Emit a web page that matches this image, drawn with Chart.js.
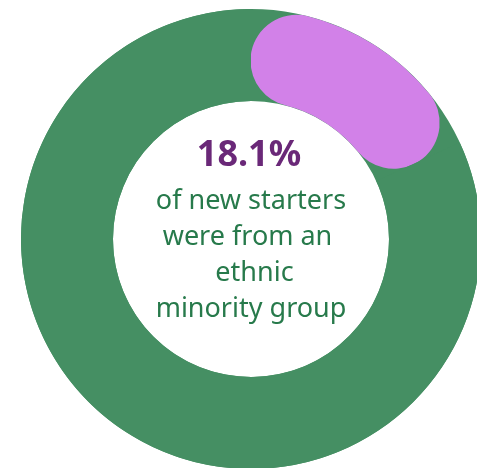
<!DOCTYPE html>
<html>
<head>
<meta charset="utf-8">
<script src="https://cdn.jsdelivr.net/npm/chart.js@4.4.1/dist/chart.umd.min.js"></script>
<style>
    html, body { margin: 0; padding: 0; background: #fff; overflow: hidden; width: 477px; height: 468px; }
    #wrap { position: absolute; left: 21px; top: 9px; width: 460px; height: 460px; }
</style>
</head>
<body>
<div id="wrap"><canvas id="myChart" width="460" height="460"></canvas></div>
<script>
const labels = ['Ethnic minority group', 'Other new starters']
const shares = [18.1, 81.9]
const sliceColors = ['#d281e8', '#458f63']
const captionLines = ['of new starters', 'were from an ', ' ethnic', 'minority group']

const trackColor = '#458f63'
const ctx = document.getElementById('myChart')

// full green ring under the slices so the rounded ends sit on the track
const ringTrack = {
    id: 'ringTrack',
    beforeDatasetsDraw(chart) {
        const arc = chart.getDatasetMeta(0).data[0]
        if (!arc) return
        const { x, y, innerRadius, outerRadius } = arc.getProps(['x', 'y', 'innerRadius', 'outerRadius'], true)
        const c = chart.ctx
        c.save()
        c.beginPath()
        c.arc(x, y, outerRadius, 0, Math.PI * 2)
        c.arc(x, y, innerRadius, 0, Math.PI * 2, true)
        c.fillStyle = trackColor
        c.fill()
        c.restore()
    }
}

// percentage and caption in the hole
const centerText = {
    id: 'centerText',
    afterDraw(chart) {
        const arc = chart.getDatasetMeta(0).data[0]
        const { x, y } = arc.getProps(['x', 'y'], true)
        const c = chart.ctx
        c.save()
        c.textAlign = 'center'
        c.textBaseline = 'alphabetic'
        c.fillStyle = '#6a2878'
        c.font = 'bold 36px "Noto Sans"'
        c.fillText(`${shares[0]}%`, x - 2, y - 73)
        c.fillStyle = '#277a4b'
        c.font = '27px "Noto Sans"'
        captionLines.forEach((line, i) => {
            c.fillText(line, x, y - 30 + i * 36)
        })
        c.restore()
    }
}

const myChart = new Chart(ctx, {
    type: 'doughnut',
    data: {
        labels: labels,
        datasets: [
            {
                data: shares,
                backgroundColor: sliceColors,
                borderWidth: 0,
                borderRadius: (c) => c.dataIndex === 0 ? 60 : 0,
            },
        ],
    },
    options: {
        responsive: false,
        animation: false,
        events: [],
        cutout: '60%',
        layout: { padding: 0 },
        plugins: {
            legend: { display: false },
            tooltip: { enabled: false },
        },
    },
    plugins: [ringTrack, centerText],
})
</script>
</body>
</html>
